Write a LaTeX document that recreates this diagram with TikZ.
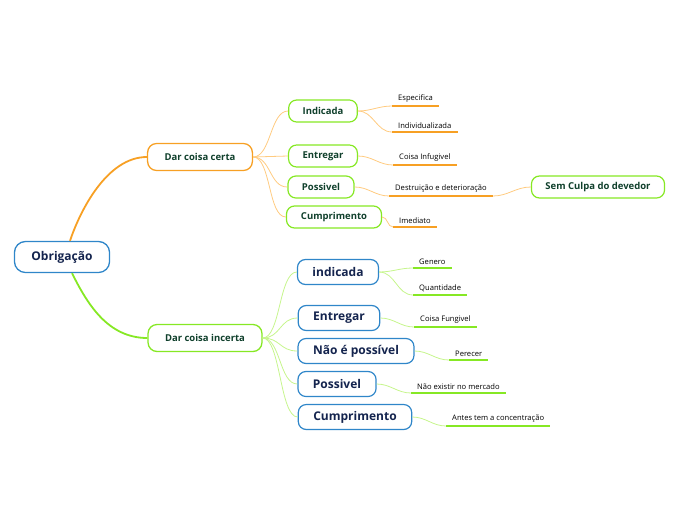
\documentclass[tikz,border=0pt]{standalone}
\usepackage{fontspec}
\setmainfont{Open Sans}
\definecolor{orng}{HTML}{F7A024}
\definecolor{orngl}{HTML}{FFCB80}
\definecolor{grn}{HTML}{86E824}
\definecolor{grnl}{HTML}{C6F58C}
\definecolor{blu}{HTML}{2F86C9}
\definecolor{dkgrn}{HTML}{10402C}
\definecolor{navy}{HTML}{14244E}
\tikzset{
  root/.style={draw=blu, line width=1.3pt, fill=white, rounded corners=11pt, minimum height=31pt, inner xsep=17pt, font=\fontsize{12}{14}\selectfont\bfseries, text=navy},
  mainbox/.style={draw=#1, line width=1.3pt, fill=white, rounded corners=9pt, minimum height=27pt, inner xsep=17pt, font=\fontsize{9.5}{11}\selectfont\bfseries, text=dkgrn},
  gbox/.style={draw=grn, line width=1.2pt, fill=white, rounded corners=8pt, minimum height=22pt, inner xsep=14pt, font=\fontsize{9.5}{11}\selectfont\bfseries, text=dkgrn},
  bbox/.style={draw=blu, line width=1.2pt, fill=white, rounded corners=8pt, minimum height=25pt, inner xsep=15pt, font=\fontsize{12}{14}\selectfont\bfseries, text=navy},
  leaf/.style={anchor=south west, inner xsep=6pt, inner ysep=3.5pt, font=\fontsize{7.6}{9}\selectfont, text=black,
    append after command={(\tikzlastnode.south west) edge[draw=#1, line width=1.8pt] (\tikzlastnode.south east)}},
  branch/.style={draw=#1, line width=1.8pt},
  twig/.style={draw=#1, line width=0.8pt}
}
\begin{document}
\begin{tikzpicture}[x=1pt, y=-1pt]
  \useasboundingbox (0,0) rectangle (696,520);

  \node[root] (obr) at (62,257) {Obrigação};
  \node[mainbox=orng] (certa) at (200,157) {Dar coisa certa};
  \node[mainbox=grn] (incerta) at (205,338) {Dar coisa incerta};

  \node[gbox] (c1) at (323,111) {Indicada};
  \node[gbox] (c2) at (323,156) {Entregar};
  \node[gbox] (c3) at (321,187) {Possivel};
  \node[gbox, minimum width=95pt] (c4) at (334,217) {Cumprimento};
  \node[gbox] (culpa) at (598,187) {Sem Culpa do devedor};

  \node[bbox] (i1) at (338,272) {indicada};
  \node[bbox] (i2) at (339,318) {Entregar};
  \node[bbox] (i3) at (356,351) {Não é possível};
  \node[bbox] (i4) at (337,384) {Possivel};
  \node[bbox] (i5) at (355,417) {Cumprimento};

  \node[leaf=orng] (esp) at (392,106) {Especifica};
  \node[leaf=orng] (ind) at (392,132) {Individualizada};
  \node[leaf=orng] (inf) at (393,165) {Coisa Infugivel};
  \node[leaf=orng] (des) at (389,196) {Destruição e deterioração};
  \node[leaf=orng] (ime) at (393,227) {Imediato};

  \node[leaf=grn] (gen) at (413,268) {Genero};
  \node[leaf=grn] (qua) at (413,295) {Quantidade};
  \node[leaf=grn] (fun) at (414,327) {Coisa Fungivel};
  \node[leaf=grn] (per) at (449,360) {Perecer};
  \node[leaf=grn] (mer) at (411,393) {Não existir no mercado};
  \node[leaf=grn] (con) at (446,426) {Antes tem a concentração};

  \draw[branch=orng] (obr.north) ++(8,0) .. controls +(10,-30) and +(-40,0) .. (certa.west);
  \draw[branch=grn] (obr.south) ++(10,0) .. controls +(15,30) and +(-40,0) .. (incerta.west);

  \foreach \c in {c1,c2,c3,c4}
    \draw[twig=orngl] (certa.east) .. controls +(18,0) and +(-18,0) .. (\c.west);
  \foreach \c in {i1,i2,i3,i4,i5}
    \draw[twig=grnl] (incerta.east) .. controls +(18,0) and +(-18,0) .. (\c.west);

  \draw[twig=orngl] (c1.east) to[out=0, in=180] (esp.south west);
  \draw[twig=orngl] (c1.east) to[out=0, in=180] (ind.south west);
  \draw[twig=orngl] (c2.east) to[out=0, in=180] (inf.south west);
  \draw[twig=orngl] (c3.east) to[out=0, in=180] (des.south west);
  \draw[twig=orngl] (c4.east) to[out=0, in=180] (ime.south west);
  \draw[twig=orngl] (des.south east) to[out=0, in=180] (culpa.west);

  \draw[twig=grnl] (i1.east) to[out=0, in=180] (gen.south west);
  \draw[twig=grnl] (i1.east) to[out=0, in=180] (qua.south west);
  \draw[twig=grnl] (i2.east) to[out=0, in=180] (fun.south west);
  \draw[twig=grnl] (i3.east) to[out=0, in=180] (per.south west);
  \draw[twig=grnl] (i4.east) to[out=0, in=180] (mer.south west);
  \draw[twig=grnl] (i5.east) to[out=0, in=180] (con.south west);
\end{tikzpicture}
\end{document}
